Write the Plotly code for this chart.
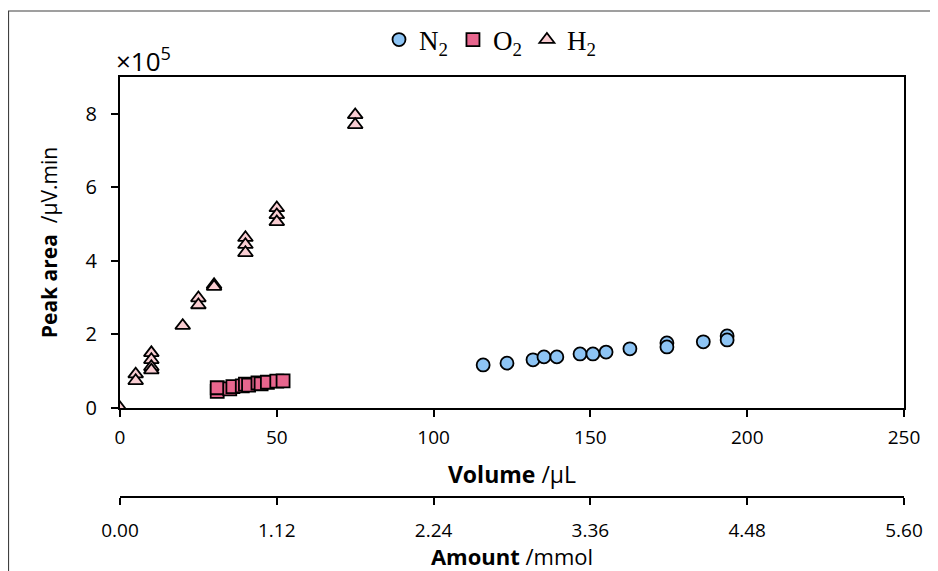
import plotly.graph_objects as go

# ---- data (volume in µL, peak area in 1e5 µV.min) ----
n2_volume = [115.8, 123.4, 131.7, 135.2, 139.3, 146.7, 150.8, 155.0, 162.6, 174.4, 174.4, 186.0, 193.6, 193.6]
n2_area   = [1.17, 1.22, 1.31, 1.39, 1.39, 1.47, 1.47, 1.52, 1.61, 1.77, 1.66, 1.80, 1.96, 1.85]

o2_volume = [31, 31, 35, 36, 39, 40, 41, 44, 45, 47, 50, 52]
o2_area   = [0.45, 0.55, 0.52, 0.58, 0.60, 0.65, 0.62, 0.68, 0.66, 0.70, 0.73, 0.74]

h2_volume = [0, 5, 5, 10, 10, 10, 10, 20, 25, 25, 30, 30, 40, 40, 40, 50, 50, 50, 75, 75]
h2_area   = [0.0, 0.92, 0.74, 1.50, 1.31, 1.12, 1.03, 2.24, 2.99, 2.80, 3.35, 3.30,
             4.63, 4.44, 4.22, 5.44, 5.25, 5.06, 7.97, 7.70]

amount_ticks = [0.00, 1.12, 2.24, 3.36, 4.48, 5.60]
volume_ticks = [0, 50, 100, 150, 200, 250]
area_ticks = [0, 2, 4, 6, 8]

FONT = "Open Sans"
line = dict(color="black", width=1.8)

# page body has an 8px margin: figure is drawn at (8, 8)
W, H = 930, 563
L, R, T, B = 112, 34, 69, 74
PW = W - L - R   # 784
PH = H - T - B   # 420

fig = go.Figure()
fig.add_trace(go.Scatter(x=n2_volume, y=n2_area, mode="markers", name="N<sub>2</sub>",
                         marker=dict(symbol="circle", size=13, color="#8DC4F4", line=line)))
fig.add_trace(go.Scatter(x=o2_volume, y=o2_area, mode="markers", name="O<sub>2</sub>",
                         marker=dict(symbol="square", size=13, color="#E8668E", line=line)))
fig.add_trace(go.Scatter(x=h2_volume, y=h2_area, mode="markers", name="H<sub>2</sub>",
                         marker=dict(symbol="triangle-up", size=13, color="#F9CDD2", line=line)))
# empty trace to create the secondary (amount) axis
fig.add_trace(go.Scatter(x=[], y=[], xaxis="x2", yaxis="y", showlegend=False, hoverinfo="skip"))

fig.update_layout(
    width=W, height=H,
    margin=dict(l=L, r=R, t=T, b=B, autoexpand=False),
    paper_bgcolor="white", plot_bgcolor="white",
    font=dict(family=FONT, size=19, color="black"),
    showlegend=True,
    legend=dict(orientation="h", x=(490 - 120) / PW, xanchor="center",
                y=1 + (69 - 32) / PH, yanchor="middle",
                font=dict(family="Liberation Serif", size=27), itemwidth=30,
                tracegroupgap=0, bgcolor="rgba(0,0,0,0)"),
    xaxis=dict(range=[0, 250], tickvals=volume_ticks, showgrid=False, zeroline=False,
               showline=True, linecolor="black", linewidth=2, mirror=True,
               ticks="outside", ticklen=7, tickwidth=1.5, tickcolor="black",
               tickfont=dict(size=19), anchor="y", automargin=False, ticklabelstandoff=4,
               title=dict(text="<b>Volume</b> /µL", font=dict(size=23), standoff=18)),
    yaxis=dict(range=[0, 9], tickvals=area_ticks, showgrid=False, zeroline=False,
               domain=[(497 - 408) / PH, 1], automargin=False,
               showline=True, linecolor="black", linewidth=2, mirror=True,
               ticks="outside", ticklen=7, tickwidth=1.5, tickcolor="black",
               tickfont=dict(size=20), ticklabelstandoff=10,
               title=dict(text="<b>Peak area</b>  /µV.min", font=dict(size=21), standoff=22)),
    xaxis2=dict(range=[0, 5.6], tickvals=amount_ticks, tickformat=".2f", overlaying="x",
                anchor="free", position=0, side="bottom", showgrid=False, zeroline=False,
                showline=True, linecolor="black", linewidth=1.5, automargin=False,
                ticks="outside", ticklen=7, tickwidth=1.5, tickcolor="black",
                tickfont=dict(size=19), ticklabelstandoff=9,
                title=dict(text="<b>Amount</b> /mmol", font=dict(size=22), standoff=0)),
    annotations=[dict(text="×10<sup>5</sup>", xref="paper", yref="paper", x=(106 - L) / PW,
                      y=1 - 4 / PH, xanchor="left", yanchor="bottom", showarrow=False,
                      font=dict(family=FONT, size=26))],
    shapes=[dict(type="rect", xref="paper", yref="paper",
                 x0=(0.5 - L) / PW, x1=(927 - L) / PW,
                 y0=-(H + 5 - (H - B)) / PH, y1=1 + (T - 3) / PH,
                 line=dict(color="#404040", width=1.2), layer="below")],
)

fig.write_html("out.html")
